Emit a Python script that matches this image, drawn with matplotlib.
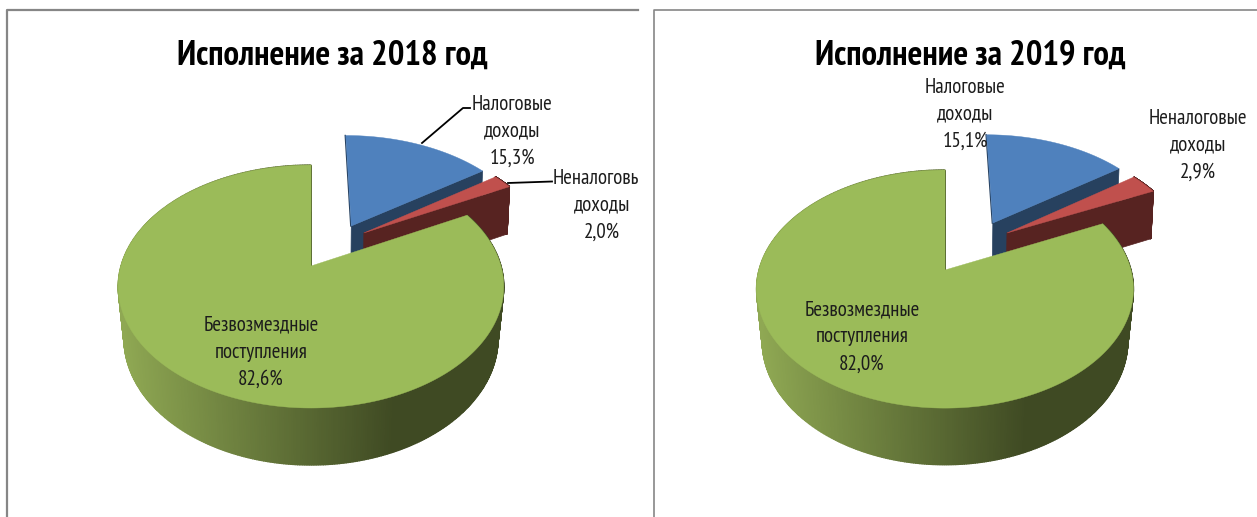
import numpy as np
import matplotlib
matplotlib.use("Agg")
import matplotlib.pyplot as plt
from matplotlib.patches import Rectangle

plt.rcParams["font.family"] = ["PT Sans Narrow", "Carlito", "Liberation Sans", "DejaVu Sans"]

# data, in percent
categories = ["Налоговые\nдоходы", "Неналоговые\nдоходы", "Безвозмездные\nпоступления"]
labels_2018 = ["15,3%", "2,0%", "82,6%"]
labels_2019 = ["15,1%", "2,9%", "82,0%"]
values_2018 = [15.3, 2.0, 82.6]
values_2019 = [15.1, 2.9, 82.0]

TOP_COLORS = ["#4f81bd", "#c0504d", "#9bbb59"]
WALL_COLORS = ["#27415f", "#572321", "#4d5d2c"]
TEXT_COLOR = "#1c1c1c"


def wedge_side_color(x, left, right):
    # horizontal shading of the outer rim of the big slice
    t = np.clip((x - left) / (right - left), 0, 1)
    light = np.array([143, 168, 83]) / 255
    dark = np.array([63, 74, 35]) / 255
    return light + (dark - light) * min(t / 0.72, 1)


def draw_pie(ax, values, geom):
    cx, cy, rx, ry, k, depth = geom["cx"], geom["cy"], geom["rx"], geom["ry"], geom["k"], geom["depth"]

    def project(u, v, z=0.0, inset=0.03):
        s = 1 / (1 + k * v)
        x = cx + rx * u * s
        y = cy - ry * v * s
        x = cx + (x - cx) * (1 - inset * z)
        y = y + z * depth * s ** 0.6
        return x, y

    total = sum(values)
    edges = np.concatenate([[0], np.cumsum(values)]) / total * 360

    for i in range(len(values)):
        du, dv = geom["explode"][i]
        t = np.radians(np.linspace(edges[i], edges[i + 1], 500))
        u = np.concatenate([[du], du + np.sin(t)])
        v = np.concatenate([[dv], dv + np.cos(t)])
        wall = WALL_COLORS[i]

        xb, yb = project(u, v, 1, 0.03 if i == 2 else 0.012)
        xt, yt = project(u, v, 0)

        # only the closing cut wall and the rim face the viewer
        last = len(u) - 1
        ax.fill([xt[0], xt[last], xb[last], xb[0]], [yt[0], yt[last], yb[last], yb[0]],
                color=wall, lw=0.5, zorder=2 + i)
        if i == 0:
            # rim of the blue slice is hidden, a hairline shows on its left cut
            ax.plot(xt[:2] - 0.5, yt[:2], color=wall, lw=1.0, zorder=2 + i)
        else:
            for j in range(1, last):
                c = wedge_side_color(xt[j], cx - rx, cx + rx) if i == 2 else wall
                ax.fill([xt[j], xt[j + 1], xb[j + 1], xb[j]], [yt[j], yt[j + 1], yb[j + 1], yb[j]],
                        color=c, lw=1.0, zorder=2 + i)
        ax.fill(xt, yt, color=TOP_COLORS[i], lw=0.3, zorder=2.5 + i)


fig = plt.figure(figsize=(12.57, 5.17), dpi=100)
ax = fig.add_axes([0, 0, 1, 1])
ax.set_xlim(0, 1257)
ax.set_ylim(517, 0)
ax.axis("off")

# panel borders
ax.plot([6.5, 6.5, 638], [517, 10, 10], color="#868686", lw=1.6, zorder=1)
ax.plot([654, 654, 1257], [517, 10, 10], color="#868686", lw=1.2, zorder=1)

geom_2018 = dict(cx=311, cy=266, rx=190, ry=118, k=0.169, depth=51,
                 explode=[(0.225, 0.36), (0.292, 0.294), (0, 0)])
geom_2019 = dict(cx=945, cy=270, rx=186, ry=116, k=0.16, depth=51,
                 explode=[(0.275, 0.433), (0.351, 0.336), (0, 0)])
draw_pie(ax, values_2018, geom_2018)
draw_pie(ax, values_2019, geom_2019)

ax.text(332, 56, "Исполнение за 2018 год", ha="center", va="center", fontsize=25,
        fontweight="bold", color="black", zorder=10)
ax.text(970, 56, "Исполнение за 2019 год", ha="center", va="center", fontsize=25,
        fontweight="bold", color="black", zorder=10)

# leader lines of the 2018 chart
ax.plot([422, 463, 470], [143, 108, 108], color="black", lw=1.3, zorder=9)
ax.plot([508, 552], [183, 181.5], color="black", lw=1.3, zorder=9)

panel_clip = Rectangle((6, 10), 632, 507, transform=ax.transData)

label_pos_2018 = [(512, 131), (602, 205), (261, 352)]
label_pos_2019 = [(965, 114), (1198, 145), (862, 337)]
for name, pct, (x, y) in zip(categories, labels_2018, label_pos_2018):
    t = ax.text(x, y, name + "\n" + pct, ha="center", va="center", fontsize=15,
                color=TEXT_COLOR, linespacing=1.53, zorder=10)
    t.set_clip_path(panel_clip)
    t.set_clip_on(True)
for name, pct, (x, y) in zip(categories, labels_2019, label_pos_2019):
    ax.text(x, y, name + "\n" + pct, ha="center", va="center", fontsize=15,
            color=TEXT_COLOR, linespacing=1.53, zorder=10)

fig.savefig("out.png", dpi=100)
